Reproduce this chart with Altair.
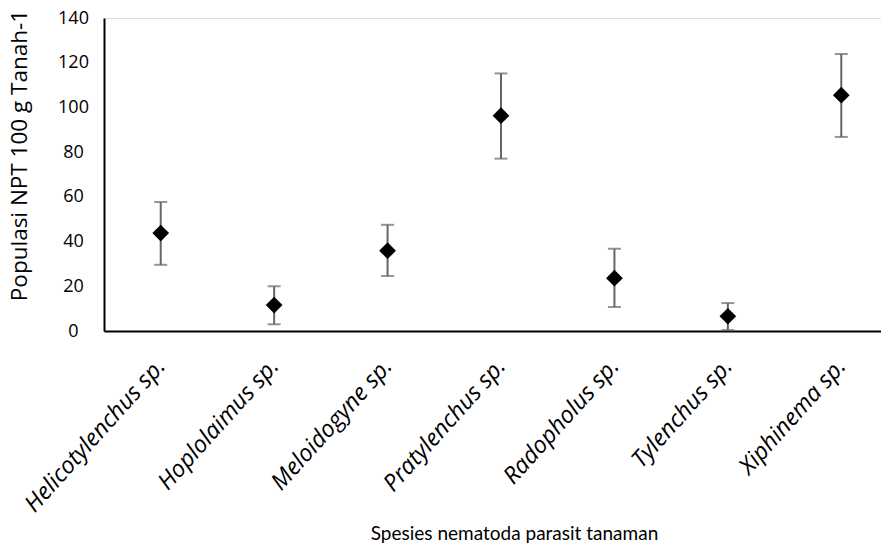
import altair as alt
import pandas as pd

species = ["Helicotylenchus sp.", "Hoplolaimus sp.", "Meloidogyne sp.", "Pratylenchus sp.",
           "Radopholus sp.", "Tylenchus sp.", "Xiphinema sp."]
mean = [43.8, 11.6, 35.9, 96.3, 23.6, 6.6, 105.5]
lower = [29.6, 3.0, 24.6, 77.1, 10.7, 0.4, 86.8]
upper = [57.7, 20.0, 47.5, 115.2, 36.8, 12.5, 123.9]
y_ticks = [0, 20, 40, 60, 80, 100, 120, 140]

df = pd.DataFrame({"species": species, "mean": mean, "lower": lower, "upper": upper})

FONT = "Open Sans"

x_enc = alt.X(
    "species:N",
    sort=species,
    scale=alt.Scale(type="point", padding=0.5, range=[0, 794]),
    axis=alt.Axis(
        title="Spesies nematoda parasit tanaman",
        titleFont="Lato", titleFontSize=19, titleFontWeight="normal", titleColor="#000000",
        titleX=410, titleY=208, titleBaseline="alphabetic", titleAlign="center",
        labelAngle=-48, labelAlign="right", labelBaseline="middle",
        labelFont=FONT, labelFontSize=23.5, labelFontStyle="italic", labelColor="#000000",
        labelPadding=31, labelLimit=400, ticks=False, tickSize=0,
        domainColor="#000000", domainWidth=2, grid=False, labelOverlap=False,
    ),
)

y_scale = alt.Scale(domain=[0, 140], nice=False, zero=True)
y_axis = alt.Axis(
    title="Populasi NPT 100 g Tanah-1",
    titleFont=FONT, titleFontSize=22.5, titleFontWeight="normal", titleColor="#000000",
    titleX=-78, titleY=137, titleBaseline="alphabetic", titleAlign="center", titleAngle=270,
    values=y_ticks, labelFont=FONT, labelFontSize=18, labelColor="#000000",
    labelAlign="center", labelBaseline="middle", labelPadding=31,
    ticks=False, tickSize=0, domainColor="#000000", domainWidth=2, grid=False,
)

base = alt.Chart(df)

bars = base.mark_rule(color="#666666", strokeWidth=2).encode(
    x=x_enc,
    y=alt.Y("lower:Q", scale=y_scale, axis=y_axis),
    y2="upper:Q",
)
cap_lo = base.mark_tick(color="#666666", thickness=2, size=13, orient="horizontal").encode(
    x=alt.X("species:N", sort=species), y=alt.Y("lower:Q")
)
cap_hi = base.mark_tick(color="#666666", thickness=2, size=13, orient="horizontal").encode(
    x=alt.X("species:N", sort=species), y=alt.Y("upper:Q")
)
points = base.mark_point(shape="diamond", filled=True, color="#000000", size=280, opacity=1).encode(
    x=alt.X("species:N", sort=species), y=alt.Y("mean:Q")
)

chart = (
    alt.layer(bars, cap_lo, cap_hi, points)
    .properties(
        width=777, height=313,
        autosize=alt.AutoSizeParams(type="none"),
        padding={"left": 96, "top": 10, "right": 0, "bottom": 215},
    )
    .configure_view(stroke=None)
    .configure(background="#ffffff")
)

chart.save("out.html", embed_options={"renderer": "svg", "actions": False})
